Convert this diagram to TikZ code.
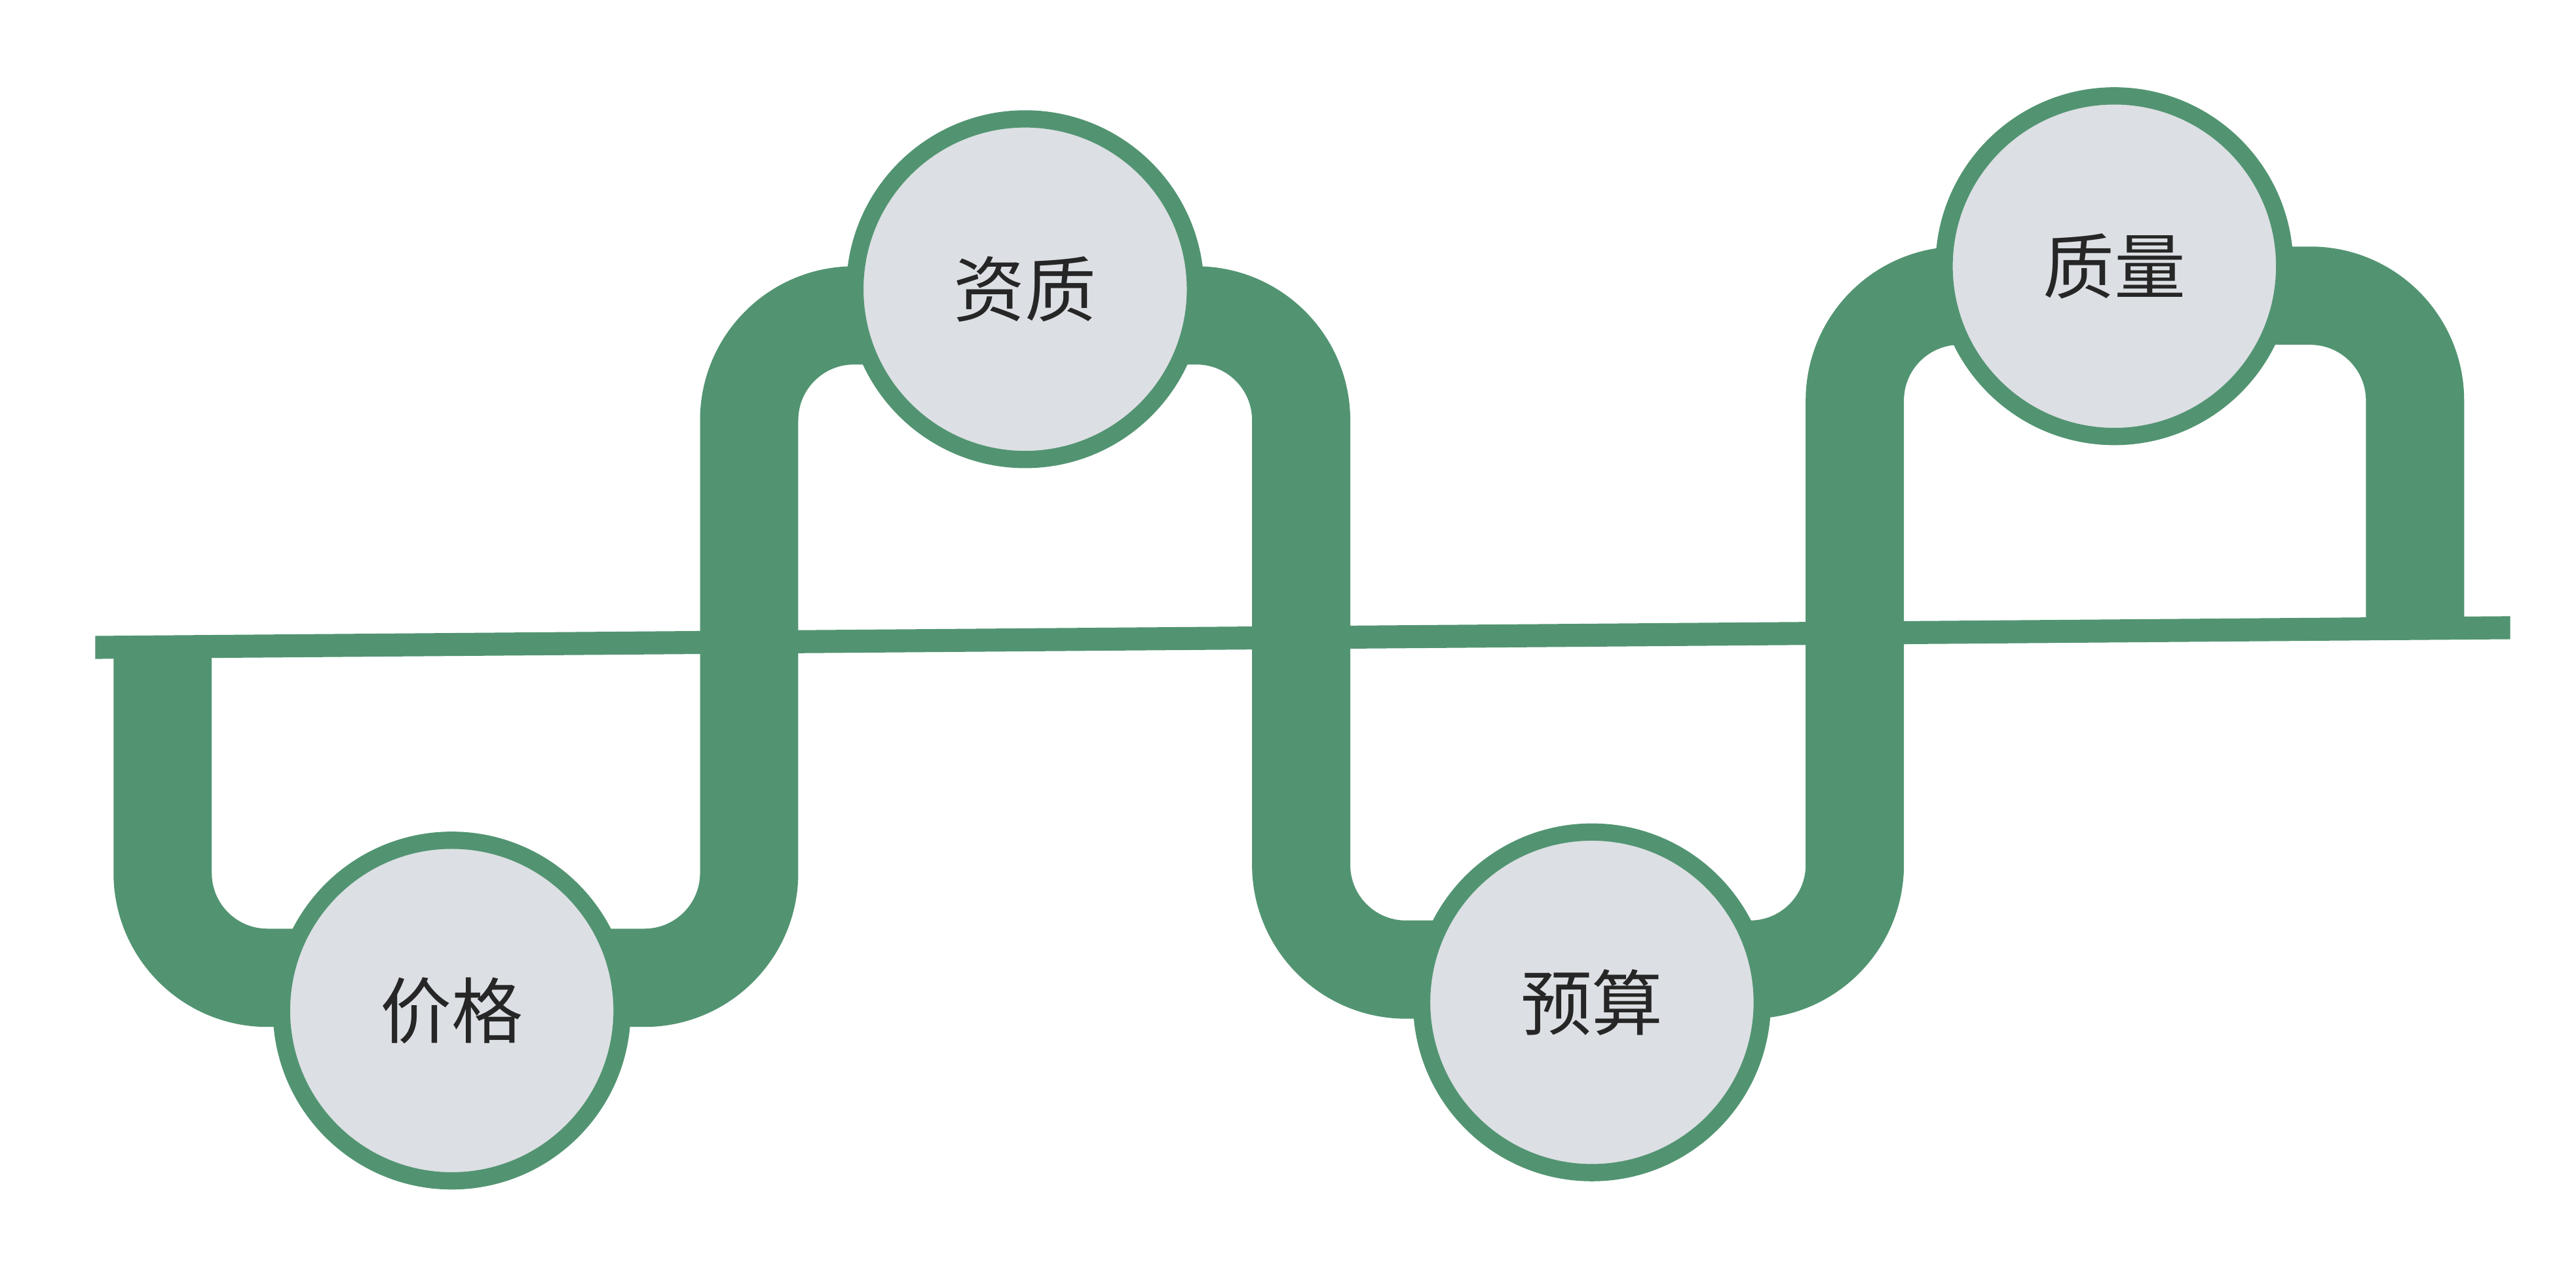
\documentclass[tikz,border=0pt]{standalone}
\usepackage{xcolor}
\usepackage{fontspec}
\usepackage{tikz}
\usetikzlibrary{backgrounds}
\newfontfamily\cjkfont{Noto Sans CJK SC}
\definecolor{pipegreen}{RGB}{82,148,114}
\definecolor{discgrey}{RGB}{220,223,227}

\begin{document}
\begin{tikzpicture}[x=0.02508cm,y=-0.02508cm,
  band/.style={draw=pipegreen,line width=1.5cm,rounded corners=1.6cm},
  rail/.style={fill=pipegreen},
  disc/.style={circle,draw=pipegreen,line width=7.5pt,fill=discgrey,minimum size=5.2cm,inner sep=0pt,text=black!85,font=\cjkfont\fontsize{31}{36}\selectfont}]
\useasboundingbox (0,0) rectangle (1568,769);
\coordinate (lstart) at (99,394);
\coordinate (c1) at (456,391);
\coordinate (c2) at (792,388);
\coordinate (c3) at (1129,385);
\coordinate (rend) at (1470,382);
\node[disc] (jiage) at (275,615) {价格};
\node[disc] (zizhi) at (624,176) {资质};
\node[disc] (yusuan) at (969,610) {预算};
\node[disc] (zhiliang) at (1287,162) {质量};
\begin{scope}[on background layer]
\path[rail] (58,387) -- (1528,375) -- (1528,389) -- (58,401) -- cycle;
\draw[band] (lstart) |- ([yshift=.5cm]jiage.center) -| (c1) |- ([yshift=-.4cm]zizhi.center)
  -| (c2) |- ([yshift=.5cm]yusuan.center) -| (c3) |- ([yshift=-.45cm]zhiliang.center) -| (rend);
\end{scope}
\end{tikzpicture}
\end{document}
